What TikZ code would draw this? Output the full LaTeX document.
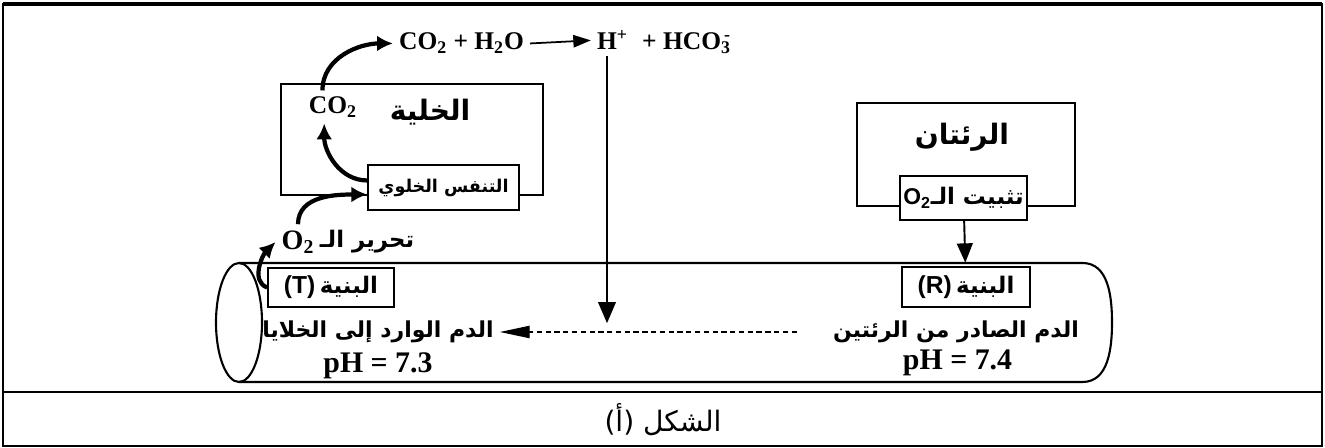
\documentclass[tikz,border=0pt]{standalone}
\usepackage{fontspec}
\setmainfont{Liberation Serif}
\newfontfamily\arabicfont[Script=Arabic]{DejaVu Sans}
\newfontfamily\latinsans{Liberation Sans}
\TeXXeTstate=1
\usetikzlibrary{arrows.meta,positioning}

\newcommand{\arb}[1]{\arabicfont\bfseries\fontsize{#1}{#1}\selectfont}
\newcommand{\lsb}[2]{{\latinsans\bfseries\fontsize{#1}{#1}\selectfont #2}}

\tikzset{
  organ/.style={draw, line width=1.1pt},
  tag/.style={draw, line width=0.9pt, fill=white, inner sep=2pt},
  chem/.style={font=\fontsize{14.5}{16}\selectfont\bfseries, anchor=base},
  ph/.style={font=\fontsize{17}{17}\selectfont\bfseries},
  bend arrow/.style={line width=2.4pt, -{Latex[length=9pt,width=9pt]}},
  flow/.style={line width=1.1pt, -{Triangle[length=11pt,width=9pt]}},
}

\begin{document}
\begin{tikzpicture}
    \useasboundingbox (0,0) rectangle (26.5,8.96);

    % Frame
    \draw[line width=0.9pt] (0.06,0.04) rectangle (26.44,8.88);
    \draw[line width=2pt] (0.06,8.88) -- (26.44,8.88);
    \draw[line width=1.5pt] (0.06,1.12) -- (26.44,1.12);
    \node (caption) at (13.26,0.56) {\arabicfont\fontsize{16}{16}\selectfont\beginR الشكل (أ)\endR};

    % Blood vessel
    \draw[line width=1.2pt] (4.78,3.70) -- (21.65,3.70) to[out=0,in=90] (22.24,2.51)
        to[out=-90,in=0] (21.65,1.32) -- (4.78,1.32);
    \draw[line width=1.2pt] (4.78,2.51) ellipse (0.46 and 1.19);

    % Cell
    \draw[organ] (5.62,5.06) rectangle (10.86,7.28);
    \node[chem, anchor=center] (co2in) at (6.66,6.82) {CO\textsubscript{2}};
    \node (cell) at (8.6,6.72) {\arb{16}\beginR الخلية\endR};
    \node[tag, minimum width=3.02cm, minimum height=0.9cm] (resp) at (8.87,5.21)
        {\arb{10}\beginR التنفس الخلوي\endR};

    % Lungs
    \draw[organ] (17.14,4.84) rectangle (21.5,6.9);
    \node (lungs) at (19.24,6.22) {\arb{16}\beginR الرئتان\endR};
    \node[tag, minimum width=2.46cm, minimum height=0.88cm] (fix) at (19.27,5.0)
        {\lsb{13}{O\textsubscript{2}}{\arb{13}\beginR تثبيت الـ\endR}};

    % Equation
    \node[chem] (eqL) at (9.23,7.96) {CO\textsubscript{2} + H\textsubscript{2}O};
    \node[chem] (hp) at (12.14,7.96) {H\rlap{\textsuperscript{+}}};
    \node[chem] (hco) at (13.73,7.96) {+ HCO\textsubscript{3}\llap{\textsuperscript{-}}};

    % Structures and blood
    \node[tag, minimum width=2.52cm, minimum height=0.78cm] (Tbox) at (6.62,3.21)
        {\lsb{14}{(T)}\ {\arb{13}\beginR البنية\endR}};
    \node[tag, minimum width=2.56cm, minimum height=0.8cm] (Rbox) at (19.32,3.22)
        {\lsb{14}{(R)}\ {\arb{13}\beginR البنية\endR}};
    \node (Tblood) at (7.56,2.32) {\arb{12.5}\beginR الدم الوارد إلى الخلايا\endR};
    \node (Rblood) at (19.12,2.32) {\arb{12.5}\beginR الدم الصادر من الرئتين\endR};
    \node[ph] (phT) at (7.56,1.64) {pH = 7.3};
    \node[ph] (phR) at (19.15,1.70) {pH = 7.4};

    % Oxygen release
    \node[font=\fontsize{16}{16}\selectfont\bfseries] (o2) at (5.96,4.12) {O\textsubscript{2}};
    \node (release) at (7.34,4.12) {\arb{13}\beginR تحرير الـ\endR};

    % Curved arrows
    \draw[bend arrow] (Tbox.west) to[out=160,in=225] (o2.west);
    \draw[bend arrow] (o2.north) to[out=90,in=180] ([yshift=-4pt]resp.west);
    \draw[bend arrow] ([yshift=4pt]resp.west) to[out=180,in=270] ([xshift=-5pt]co2in.south);
    \draw[bend arrow] ([xshift=-6pt]co2in.north) to[out=90,in=180] (eqL.west);

    % Straight arrows
    \draw[line width=1pt, -{Triangle[length=10pt,width=7pt]}] (eqL.east) -- (hp.west);
    \coordinate (hit) at (hp.south |- Tblood);
    \draw[flow, -{Triangle[length=12pt,width=10pt]}, shorten >=5pt] (hp.south) -- (hit);
    \draw[flow, shorten >=2pt] (fix) -- (Rbox);
    \draw[line width=0.8pt, dash pattern=on 3pt off 2pt, -{Triangle[length=17pt,width=7pt]},
        shorten <=0.6cm] (Rblood.west) -- (Tblood.east);
\end{tikzpicture}
\end{document}
